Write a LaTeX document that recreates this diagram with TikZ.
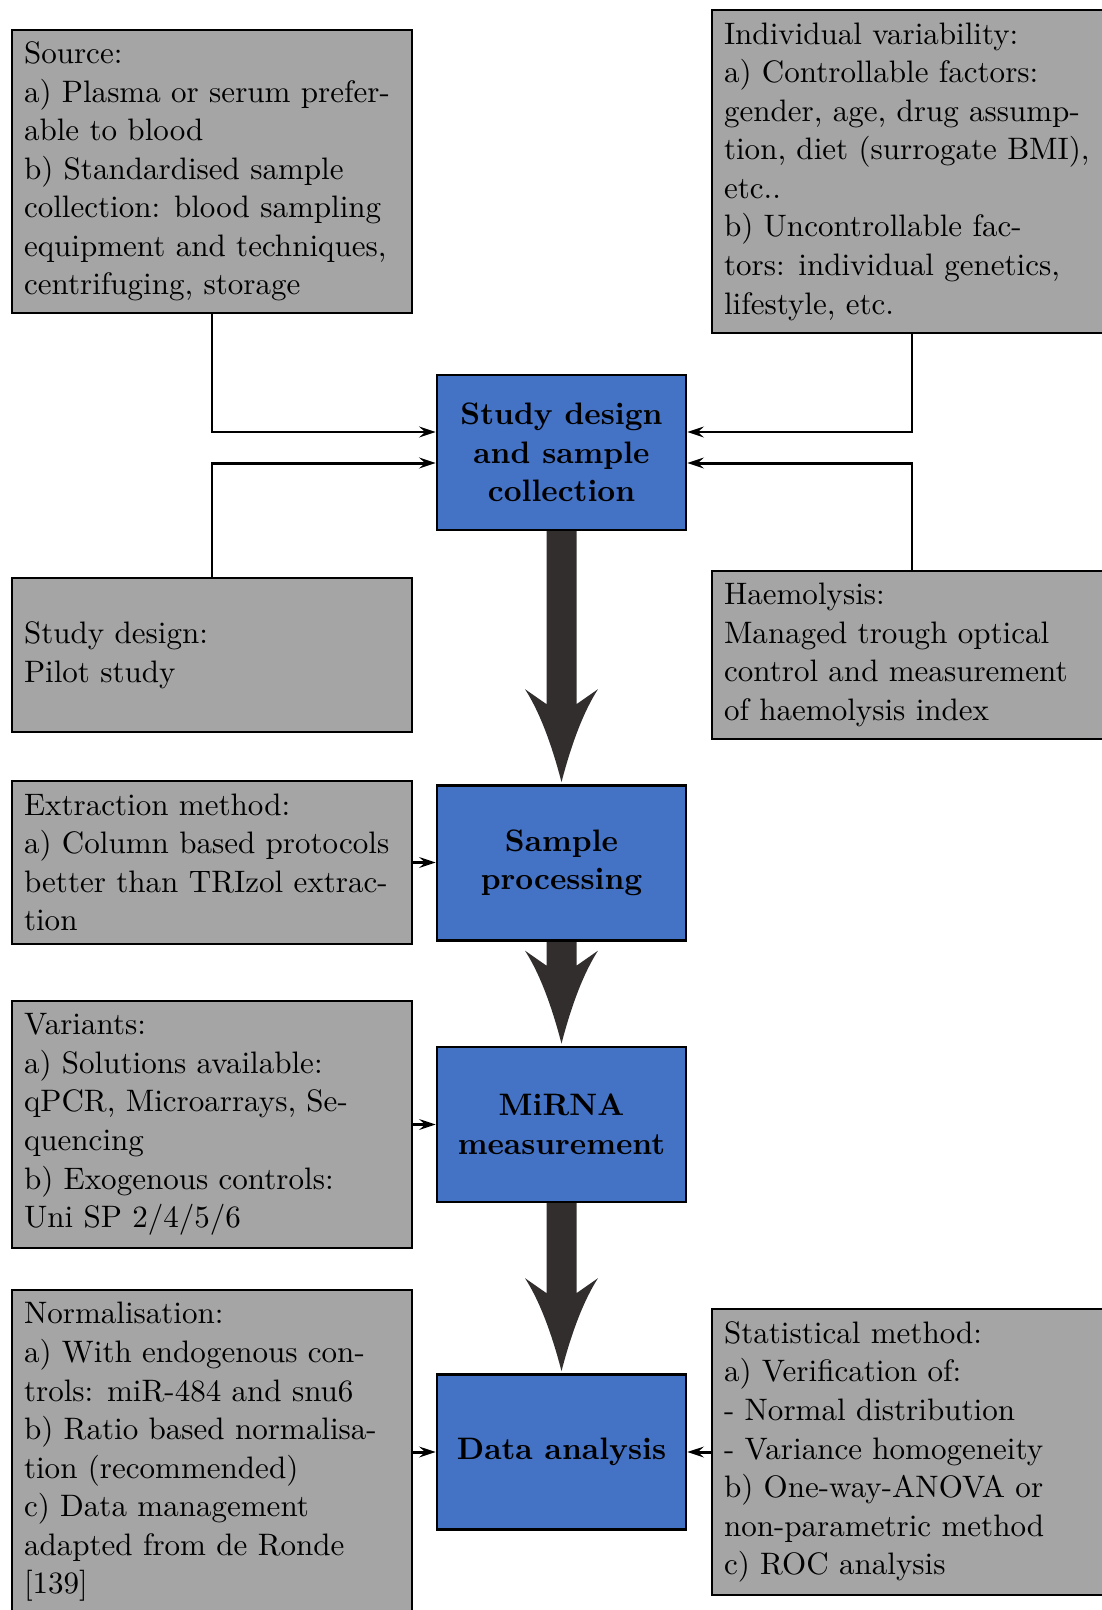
\documentclass[tikz,border=0pt]{standalone}
\usepackage{fontspec}
\usetikzlibrary{arrows.meta,calc,backgrounds}
\definecolor{boxblue}{HTML}{4472C4}
\definecolor{boxgray}{HTML}{A5A5A5}
\definecolor{arrowdark}{HTML}{322E2E}
\newcommand\bigarrow[2]{%
  \fill[arrowdark] ($(#1.south)+(-15,-1)$) -- ($(#2.north)+(-15,-80)$)
    -- ($(#2.north)+(-36.5,-95)$)
    .. controls ($(#2.north)+(-22.3,-73)$) and ($(#2.north)+(-10.1,-41)$) .. ($(#2.north)+(0,-2)$)
    .. controls ($(#2.north)+(10.1,-41)$) and ($(#2.north)+(22.3,-73)$) .. ($(#2.north)+(36.5,-95)$)
    -- ($(#2.north)+(15,-80)$) -- ($(#1.south)+(15,-1)$) -- cycle;}
\tikzset{
  x=0.3527pt, y=-0.3527pt,
  every node/.style={font=\fontsize{10.95}{13.6}\selectfont},
  ht/.style={minimum height=#1*0.3527pt},
  graybox/.style={draw=black, fill=boxgray, line width=0.95pt, text width=132.6pt,
    inner xsep=4.23pt, inner ysep=0pt, align=flush left},
  bluebox/.style={draw=black, fill=boxblue, line width=0.95pt, minimum width=249*0.3527pt,
    minimum height=155*0.3527pt, inner sep=2pt, align=center,
    font=\fontsize{10.95}{13.6}\selectfont\bfseries},
  conn/.style={line width=1.05pt, -{Stealth[length=5.8pt,width=3.8pt,inset=2.1pt]}},
}
\begin{document}
\begin{tikzpicture}
\useasboundingbox (0,0) rectangle (1102,1610);
\clip (0,0) rectangle (1102,1610);

\node[graybox, ht=283] (src) at (212,171.5) {Source:\\a) Plasma or serum prefer-\\able to blood\\b) Standardised sample\\collection: blood sampling\\equipment and techniques,\\centrifuging, storage};
\node[graybox, ht=323] (iv) at (912,171.5) {Individual variability:\\a) Controllable factors:\\gender, age, drug assump-\\tion, diet (surrogate BMI),\\etc..\\b) Uncontrollable fac-\\tors: individual genetics,\\lifestyle, etc.};
\node[bluebox] (sd) at (561.5,452.5) {Study design\\and sample\\collection};
\node[graybox, ht=154] (pilot) at (212,655) {Study design:\\Pilot study};
\node[graybox, ht=168] (haem) at (912,655) {Haemolysis:\\Managed trough optical\\control and measurement\\of haemolysis index};
\node[graybox, ht=163] (ex) at (212,862.5) {Extraction method:\\a) Column based protocols\\better than TRIzol extrac-\\tion};
\node[bluebox] (sp) at (561.5,863) {Sample\\processing};
\node[graybox, ht=247] (var) at (212,1124.5) {Variants:\\a) Solutions available:\\qPCR, Microarrays, Se-\\quencing\\b) Exogenous controls:\\Uni SP 2/4/5/6};
\node[bluebox] (mi) at (561.5,1124.5) {MiRNA\\measurement};
\node[graybox, ht=324] (norm) at (212,1452) {Normalisation:\\a) With endogenous con-\\trols: miR-484 and snu6\\b) Ratio based normalisa-\\tion (recommended)\\c) Data management\\adapted from de Ronde\\{[139]}};
\node[bluebox] (da) at (561.5,1452) {Data analysis};
\node[graybox, ht=286] (stat) at (912,1452) {Statistical method:\\a) Verification of:\\- Normal distribution\\- Variance homogeneity\\b) One-way-ANOVA or\\non-parametric method\\c) ROC analysis};

\begin{pgfonlayer}{background}
\bigarrow{sd}{sp}
\bigarrow{sp}{mi}
\bigarrow{mi}{da}
\end{pgfonlayer}

\draw[conn] (src.south) |- ($(sd.west)+(0,-20.5)$);
\draw[conn] (pilot.north) |- ($(sd.west)+(0,10.5)$);
\draw[conn] (iv.south) |- ($(sd.east)+(0,-20.5)$);
\draw[conn] (haem.north) |- ($(sd.east)+(0,10.5)$);
\draw[conn] (ex.east) -- (ex.east -| sp.west);
\draw[conn] (var.east) -- (var.east -| mi.west);
\draw[conn] (norm.east) -- (norm.east -| da.west);
\draw[conn] (stat.west) -- (stat.west -| da.east);
\end{tikzpicture}
\end{document}
